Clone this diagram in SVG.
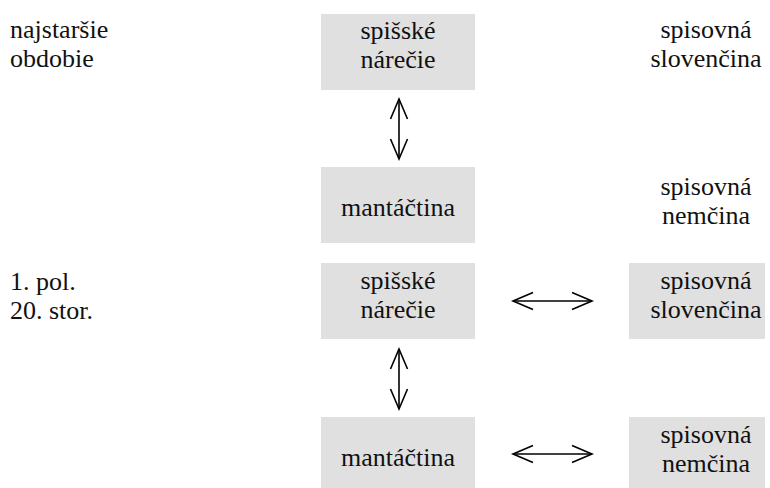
<svg xmlns="http://www.w3.org/2000/svg" width="770" height="488" viewBox="0 0 770 488" font-family="Liberation Serif, Times New Roman, DejaVu Serif, serif" font-size="26">
<style>
.c{text-anchor:middle}
text{fill:#111}
.box{fill:#e0e0e0}
.arr{stroke:#000;stroke-width:1.6;fill:none;marker-start:url(#ah);marker-end:url(#ah)}
</style>
<defs>
<marker id="ah" markerUnits="userSpaceOnUse" markerWidth="26" markerHeight="22" refX="22" refY="10" orient="auto-start-reverse" overflow="visible">
<path d="M2,1.5 L22,10 L2,18.5" fill="none" stroke="#000" stroke-width="1.6"/>
</marker>
</defs>
<rect width="770" height="488" fill="#fff"/>
<g id="label-najstarsie">
<text x="10" y="38">najstaršie</text>
<text x="10" y="67">obdobie</text>
</g>
<g id="label-1pol">
<text x="10" y="290">1. pol.</text>
<text x="10" y="319">20. stor.</text>
</g>
<g id="n1">
<rect class="box" x="321" y="14" width="154" height="76"/>
<text class="c" x="398" y="39">spišské</text>
<text class="c" x="398" y="68">nárečie</text>
</g>
<g id="n2">
<rect class="box" x="321" y="167" width="154" height="76"/>
<text class="c" x="398" y="216">mantáčtina</text>
</g>
<g id="n3">
<text class="c" x="706" y="38">spisovná</text>
<text class="c" x="706" y="67">slovenčina</text>
</g>
<g id="n4">
<text class="c" x="706" y="195">spisovná</text>
<text class="c" x="706" y="224">nemčina</text>
</g>
<g id="n5">
<rect class="box" x="321" y="263" width="154" height="76"/>
<text class="c" x="398" y="289">spišské</text>
<text class="c" x="398" y="318">nárečie</text>
</g>
<g id="n6">
<rect class="box" x="629" y="263" width="136" height="76"/>
<text class="c" x="706" y="289">spisovná</text>
<text class="c" x="706" y="318">slovenčina</text>
</g>
<g id="n7">
<rect class="box" x="321" y="417" width="154" height="76"/>
<text class="c" x="398" y="466">mantáčtina</text>
</g>
<g id="n8">
<rect class="box" x="629" y="417" width="136" height="76"/>
<text class="c" x="706" y="443">spisovná</text>
<text class="c" x="706" y="472">nemčina</text>
</g>
<g id="connectors">
<line class="arr" x1="399" y1="99" x2="399" y2="159"/>
<line class="arr" x1="399" y1="349" x2="399" y2="409"/>
<line class="arr" x1="513" y1="301" x2="592" y2="301"/>
<line class="arr" x1="513" y1="454" x2="592" y2="454"/>
</g>
</svg>
